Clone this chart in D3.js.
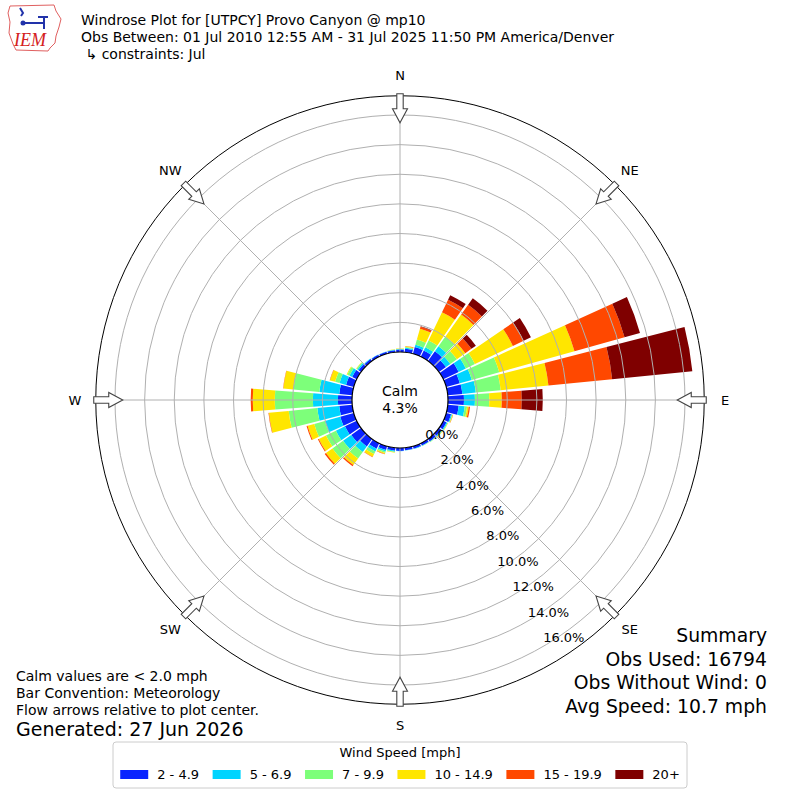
<!DOCTYPE html>
<html>
<head>
<meta charset="utf-8">
<script src="https://cdn.jsdelivr.net/npm/d3@7"></script>
<style>
  body { margin: 0; background: #fff; }
  text { font-family: "DejaVu Sans", sans-serif; fill: #000; }
</style>
</head>
<body>
<svg id="chart" width="800" height="800"></svg>
<script>
// wind direction bins (degrees, meteorological convention)
const directions = [0, 10, 20, 30, 40, 50, 60, 70, 80, 90, 100, 110, 120, 130, 140, 150, 160, 170,
  180, 190, 200, 210, 220, 230, 240, 250, 260, 270, 280, 290, 300, 310, 320, 330, 340, 350];

const speedBins = ["2 - 4.9", "5 - 6.9", "7 - 9.9", "10 - 14.9", "15 - 19.9", "20+"];
const binColors = ["#0a24ff", "#00d4ff", "#7dff7a", "#ffe600", "#ff4800", "#7f0000"];

// percent of observations per direction, one array per speed bin
const speed2to5 = [0.17, 0.24, 0.47, 0.47, 0.81, 0.58, 1.15, 0.95, 0.99, 1.08, 0.74, 0.34, 0.24, 0.20, 0.20, 0.17, 0.17, 0.17,
  0.20, 0.20, 0.27, 0.41, 0.61, 0.81, 0.88, 0.95, 0.88, 0.95, 0.88, 0.54, 0.34, 0.20, 0.17, 0.14, 0.14, 0.14];
const speed5to7 = [0.03, 0.07, 0.16, 0.24, 0.41, 0.36, 0.54, 0.84, 0.91, 0.74, 0.41, 0.07, 0.07, 0.07, 0.03, 0.03, 0.03, 0.02,
  0.02, 0.07, 0.10, 0.20, 0.47, 0.68, 0.68, 1.08, 1.49, 1.69, 1.35, 0.46, 0.20, 0.10, 0.03, 0.02, 0.02, 0.03];
const speed7to10 = [0.02, 0.05, 0.37, 0.51, 0.81, 0.54, 0.68, 1.93, 1.69, 0.97, 0.16, 0.03, 0.03, 0.03, 0.03, 0.02, 0, 0,
  0, 0.03, 0.10, 0.20, 0.54, 0.88, 0.74, 0.74, 1.94, 2.57, 1.76, 0.31, 0.17, 0.07, 0, 0, 0, 0.01];
const speed10to15 = [0.02, 0.05, 0.76, 2.10, 1.82, 0.70, 2.84, 5.27, 3.24, 0.84, 0.11, 0.03, 0.03, 0.03, 0, 0, 0, 0,
  0, 0.03, 0.07, 0.20, 0.54, 0.54, 0.54, 0.47, 1.34, 1.49, 0.68, 0.36, 0.05, 0.03, 0, 0, 0, 0.02];
const speed15to20 = [0, 0.02, 0.14, 0.95, 0.81, 0.51, 0.81, 3.51, 4.32, 1.35, 0.09, 0.02, 0, 0, 0, 0, 0, 0,
  0, 0, 0.02, 0.03, 0.10, 0.10, 0.07, 0.07, 0.03, 0.14, 0.02, 0.02, 0, 0, 0, 0, 0, 0];
const speed20plus = [0, 0, 0.03, 0.34, 0.54, 0.37, 0.54, 1.08, 5.44, 1.42, 0, 0, 0, 0, 0, 0, 0, 0,
  0, 0, 0, 0, 0, 0, 0, 0, 0, 0, 0, 0, 0, 0, 0, 0, 0, 0];

const series = [speed2to5, speed5to7, speed7to10, speed10to15, speed15to20, speed20plus];

const ringTicks = [0, 2, 4, 6, 8, 10, 12, 14, 16];
const compassLabels = ["N", "NE", "E", "SE", "S", "SW", "W", "NW"];
const compassDegrees = [0, 45, 90, 135, 180, 225, 270, 315];
const calmPct = 4.3;

const titleLines = [
  "Windrose Plot for [UTPCY] Provo Canyon @ mp10",
  "Obs Between: 01 Jul 2010 12:55 AM - 31 Jul 2025 11:50 PM America/Denver",
  " \u21b3 constraints: Jul"
];
const noteLines = [
  "Calm values are < 2.0 mph",
  "Bar Convention: Meteorology",
  "Flow arrows relative to plot center."
];
const generatedText = "Generated: 27 Jun 2026";
const summaryLines = ["Summary", "Obs Used: 16794", "Obs Without Wind: 0", "Avg Speed: 10.7 mph"];

const svg = d3.select("#chart");
svg.append("rect").attr("width", 800).attr("height", 800).attr("fill", "#fff");

// radial scale: 0% sits on the calm circle
const r = d3.scaleLinear().domain([0, 16]).range([48, 285]);
const rMax = 17.3;
const ang = d3.scaleLinear().domain([0, 360]).range([0, 2 * Math.PI]);
const halfWidth = 4.4; // degrees each side of bin centre

const g = svg.append("g").attr("transform", "translate(400,400)");

// stack speed bins per direction
const rows = directions.map((d, i) => {
  const row = { dir: d };
  series.forEach((s, k) => { row[k] = s[i]; });
  return row;
});
const stacked = d3.stack().keys(d3.range(series.length))(rows);

const arc = d3.arc();
stacked.forEach((layer, k) => {
  g.append("g")
    .selectAll("path")
    .data(layer.filter(d => d[1] > d[0]))
    .enter()
    .append("path")
    .attr("fill", binColors[k])
    .attr("d", d => arc({
      innerRadius: r(d[0]),
      outerRadius: r(d[1]),
      startAngle: ang(d.data.dir - halfWidth),
      endAngle: ang(d.data.dir + halfWidth)
    }));
});

// grid on top of bars
const grid = g.append("g");
grid.selectAll("circle.ring")
  .data(ringTicks.slice(1))
  .enter()
  .append("circle")
  .attr("r", d => r(d))
  .attr("fill", "none")
  .attr("stroke", "#b0b0b0")
  .attr("stroke-width", 1);

grid.selectAll("line.spoke")
  .data(compassDegrees)
  .enter()
  .append("line")
  .attr("x1", d => Math.sin(ang(d)) * r(0))
  .attr("y1", d => -Math.cos(ang(d)) * r(0))
  .attr("x2", d => Math.sin(ang(d)) * r(rMax))
  .attr("y2", d => -Math.cos(ang(d)) * r(rMax))
  .attr("stroke", "#b0b0b0")
  .attr("stroke-width", 1);

// outer frame
g.append("circle").attr("r", r(rMax)).attr("fill", "none").attr("stroke", "#000").attr("stroke-width", 1);

// calm circle
g.append("circle").attr("r", r(0)).attr("fill", "#fff").attr("stroke", "#000").attr("stroke-width", 1.2);
g.append("text").attr("x", 0).attr("y", -4).attr("text-anchor", "middle")
  .style("font-size", "14px").text("Calm");
g.append("text").attr("x", 0).attr("y", 13).attr("text-anchor", "middle")
  .style("font-size", "14px").text(calmPct.toFixed(1) + "%");

// ring labels along 149 degrees
const labelBearing = ang(149);
g.selectAll("text.rlabel")
  .data(ringTicks)
  .enter()
  .append("text")
  .attr("x", d => Math.sin(labelBearing) * r(d) + 17)
  .attr("y", d => -Math.cos(labelBearing) * r(d) - 6.8)
  .attr("text-anchor", "middle")
  .attr("dominant-baseline", "central")
  .style("font-size", "13px")
  .text(d => d.toFixed(1) + "%");

// flow arrows pointing at the centre
const rOut = r(rMax);
const arrowPts = [[0, -(rOut - 27)], [7.5, -(rOut - 13)], [3.2, -(rOut - 13)], [3.2, -(rOut + 2)],
  [-3.2, -(rOut + 2)], [-3.2, -(rOut - 13)], [-7.5, -(rOut - 13)]];
g.selectAll("polygon.arrow")
  .data(compassDegrees)
  .enter()
  .append("polygon")
  .attr("points", arrowPts.map(p => p.join(",")).join(" "))
  .attr("transform", d => `rotate(${d})`)
  .attr("fill", "#fff")
  .attr("stroke", "#444")
  .attr("stroke-width", 1.1);

// compass labels
g.selectAll("text.compass")
  .data(compassDegrees)
  .enter()
  .append("text")
  .attr("x", d => Math.sin(ang(d)) * 325)
  .attr("y", d => -Math.cos(ang(d)) * 325)
  .attr("text-anchor", "middle")
  .attr("dominant-baseline", "central")
  .style("font-size", "13px")
  .text((d, i) => compassLabels[i]);

// header
svg.selectAll("text.title")
  .data(titleLines)
  .enter()
  .append("text")
  .attr("x", 81)
  .attr("y", (d, i) => 25 + i * 17)
  .style("font-size", "14px")
  .attr("xml:space", "preserve")
  .text(d => d);

// IEM logo (rough)
const logo = svg.append("g");
logo.append("path")
  .attr("d", "M10,6 L54,5 L56,11 L61,19 L59,27 L56,36 L55,43 L50,48 L48,51 L16,50 L13,44 L9,33 L10,22 L8,13 Z")
  .attr("fill", "none").attr("stroke", "#e06060").attr("stroke-width", 1);
logo.append("path")
  .attr("d", "M24,23 L44,23 M44,17 L44,29 M38,17 L48,17 M20,8 L23,13 L21,16")
  .attr("fill", "none").attr("stroke", "#2233aa").attr("stroke-width", 2);
logo.append("circle").attr("cx", 23).attr("cy", 23).attr("r", 2.5).attr("fill", "#2233aa");
logo.append("text").attr("x", 14).attr("y", 46)
  .style("font-family", "'Liberation Serif', serif").style("font-style", "italic")
  .style("font-size", "18px").style("fill", "#d42020").text("IEM");

// notes bottom-left
svg.selectAll("text.note")
  .data(noteLines)
  .enter()
  .append("text")
  .attr("x", 16)
  .attr("y", (d, i) => 681 + i * 17)
  .style("font-size", "14px")
  .text(d => d);
svg.append("text").attr("x", 16).attr("y", 736).style("font-size", "19px").text(generatedText);

// summary bottom-right
svg.selectAll("text.summary")
  .data(summaryLines)
  .enter()
  .append("text")
  .attr("x", 767)
  .attr("y", (d, i) => 642 + i * 23.5)
  .attr("text-anchor", "end")
  .style("font-size", "18.8px")
  .text(d => d);

// legend
const legend = svg.append("g");
legend.append("rect")
  .attr("x", 113).attr("y", 742).attr("width", 574).attr("height", 46).attr("rx", 3)
  .attr("fill", "#fff").attr("stroke", "#cccccc");
legend.append("text").attr("x", 400).attr("y", 757).attr("text-anchor", "middle")
  .style("font-size", "13px").text("Wind Speed [mph]");

const items = legend.append("g");
let lx = 0;
speedBins.forEach((label, k) => {
  const it = items.append("g").attr("transform", `translate(${lx},0)`);
  it.append("rect").attr("x", 0).attr("y", 770).attr("width", 28).attr("height", 9).attr("fill", binColors[k]);
  const t = it.append("text").attr("x", 37).attr("y", 779).style("font-size", "13px").text(label);
  lx += 37 + t.node().getComputedTextLength() + 13.5;
});
const rowWidth = lx - 13.5;
items.attr("transform", `translate(${400 - rowWidth / 2},0)`);
</script>
</body>
</html>
